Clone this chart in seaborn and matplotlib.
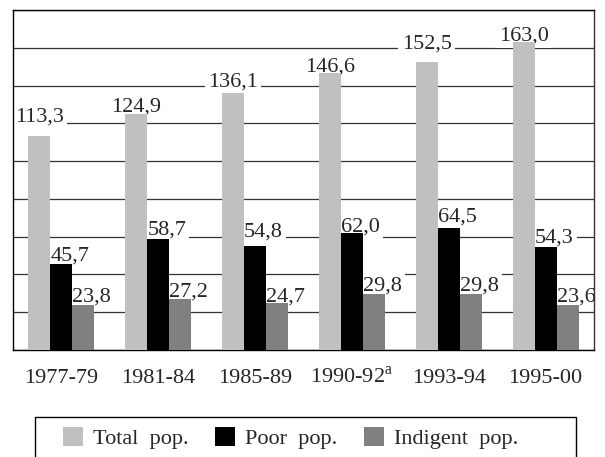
import numpy as np
import pandas as pd
import matplotlib
matplotlib.use("Agg")
import matplotlib.pyplot as plt
from matplotlib.patches import Rectangle, Patch
import seaborn as sns

# values (millions of people)
periods = ["1977-79", "1981-84", "1985-89", "1990-92", "1993-94", "1995-00"]
period_labels = ["1977-79", "1981-84", "1985-89", "1990-92$^{\\mathrm{a}}$", "1993-94", "1995-00"]
series = ["Total pop.", "Poor pop.", "Indigent pop."]
total_pop = [113.3, 124.9, 136.1, 146.6, 152.5, 163.0]
poor_pop = [45.7, 58.7, 54.8, 62.0, 64.5, 54.3]
indigent_pop = [23.8, 27.2, 24.7, 29.8, 29.8, 23.6]

colors = ["#c0c0c0", "#000000", "#808080"]

# gap (px) between each value label and its bar, as placed in the original
label_gap = {
    "Total pop.": [14, 3, 6, 2, 13, 2],
    "Poor pop.": [3, 5, 10, 1, 7, 5],
    "Indigent pop.": [3, 2, 2, 3, 3, 4],
}


def build_frame():
    rows = []
    for name, vals in zip(series, [total_pop, poor_pop, indigent_pop]):
        for p, v in zip(periods, vals):
            rows.append({"period": p, "series": name, "value": v})
    return pd.DataFrame(rows)


def fmt(v):
    return f"{v:.1f}".replace(".", ",")


def main():
    sns.set_style("white")
    plt.rcParams["font.family"] = ["Liberation Serif", "DejaVu Serif"]
    plt.rcParams["mathtext.fontset"] = "custom"
    plt.rcParams["mathtext.rm"] = "Liberation Serif"

    df = build_frame()
    W, H = 605, 457
    fig = plt.figure(figsize=(W / 100, H / 100), dpi=100)
    ax = fig.add_axes([13 / W, 1 - 350 / H, 581 / W, 340 / H])

    sns.barplot(data=df, x="period", y="value", hue="series", hue_order=series,
                palette=colors, saturation=1, width=0.68, gap=0, linewidth=0,
                legend=False, ax=ax, zorder=3)

    ax.set_ylim(0, 180)
    ax.set_xlim(-0.5, len(periods) - 0.5)
    ax.set_yticks(np.arange(0, 181, 20))
    ax.set_yticklabels([])
    ax.yaxis.grid(True, color="#333333", linewidth=0.9, zorder=0)
    ax.set_axisbelow(True)
    ax.tick_params(axis="y", length=2, color="#333333")
    ax.tick_params(axis="x", length=0, pad=24, labelsize=16)
    ax.set_xticks(range(len(periods)))
    ax.set_xticklabels(period_labels)
    for t in ax.get_xticklabels():
        t.set_va("baseline")
    ax.set_xlabel("")
    ax.set_ylabel("")
    for side in ["left", "top", "bottom"]:
        ax.spines[side].set_color("black")
        ax.spines[side].set_linewidth(1)
    ax.spines["right"].set_color("#333333")
    ax.spines["right"].set_linewidth(1)

    px = 72 / 100  # points per pixel
    for name, cont in zip(series, ax.containers):
        for bar, gap in zip(cont.patches, label_gap[name]):
            v = bar.get_height()
            if name == "Total pop.":
                x, ha = bar.get_x() + bar.get_width() / 2, "center"
            else:
                x, ha = bar.get_x(), "left"
            # labels sit under the bars so their white boxes only cut gridlines
            ax.annotate(fmt(v), (x, v), xytext=(0, gap * px), textcoords="offset points",
                        ha=ha, va="baseline", fontsize=16, zorder=2,
                        bbox=dict(boxstyle="square,pad=0.15", fc="white", ec="none"))

    # legend box runs off the bottom of the figure, as in the original
    fig.patches.append(Rectangle((35 / W, -0.2), (576 - 35) / W, 0.2 + 1 - 417 / H,
                                 transform=fig.transFigure, fill=False,
                                 edgecolor="black", linewidth=1))
    handles = [Patch(facecolor=c, edgecolor="none") for c in colors]
    legend_labels = [s.replace(" ", "  ") for s in series]
    fig.legend(handles, legend_labels, loc="center left", bbox_to_anchor=(63 / W, 1 - 438 / H),
               ncol=3, frameon=False, borderpad=0, borderaxespad=0, fontsize=16,
               handlelength=0.9, handleheight=0.9, handletextpad=0.45, columnspacing=1.2)

    fig.savefig("out.png", dpi=100)


if __name__ == "__main__":
    main()
